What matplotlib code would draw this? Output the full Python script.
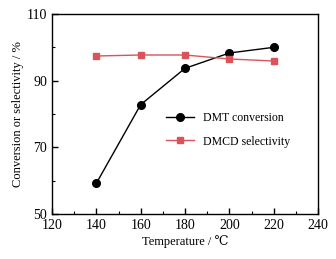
import matplotlib
matplotlib.use("Agg")
import matplotlib.pyplot as plt

plt.rcParams['font.family'] = ['Liberation Serif', 'DejaVu Serif']
plt.rcParams['font.size'] = 9

temperature = [140, 160, 180, 200, 220]
dmt_conversion = [59.2, 82.8, 93.7, 98.3, 100.0]
dmcd_selectivity = [97.4, 97.7, 97.7, 96.5, 95.9]

fig = plt.figure(figsize=(3.36, 2.59), dpi=100)
ax = fig.add_axes([52 / 336, 1 - 214 / 259, 266 / 336, 200 / 259])

ax.plot(temperature, dmt_conversion, color='black', lw=1.0, marker='o',
        ms=5.5, mfc='black', mec='black', label='DMT conversion')
ax.plot(temperature, dmcd_selectivity, color='#d9545a', lw=1.0, marker='s',
        ms=4.5, label='DMCD selectivity')

ax.set_xlim(120, 240)
ax.set_ylim(50, 110)
ax.set_xticks([120, 140, 160, 180, 200, 220, 240])
ax.set_xticks([130, 150, 170, 190, 210, 230], minor=True)
ax.set_yticks([50, 70, 90, 110])
ax.set_yticks([60, 80, 100], minor=True)
ax.tick_params(which='both', direction='in', top=False, right=False,
               labelsize=10)
ax.tick_params(which='major', length=4, width=1)
ax.tick_params(which='minor', length=2, width=0.8)
for s in ax.spines.values():
    s.set_linewidth(1.0)

ax.set_xlabel('Temperature / ℃', labelpad=2)
ax.set_ylabel('Conversion or selectivity / %', labelpad=2)

ax.legend(loc='center left', bbox_to_anchor=(0.39, 0.42), frameon=False,
          handlelength=2.3, labelspacing=0.95, fontsize=8.5)

fig.savefig('out.png', dpi=100)
